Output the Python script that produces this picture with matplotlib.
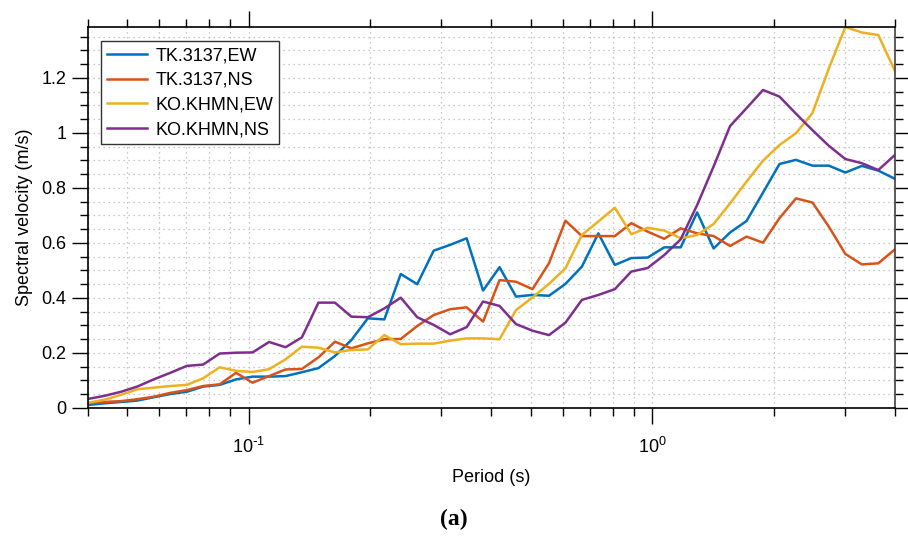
import numpy as np
import matplotlib
matplotlib.use('Agg')
import matplotlib.pyplot as plt
from matplotlib.ticker import LogLocator, MultipleLocator, FuncFormatter

plt.rcParams['font.family'] = ['Liberation Sans', 'DejaVu Sans']
plt.rcParams['mathtext.default'] = 'regular'
plt.rcParams['axes.unicode_minus'] = False

# period grid (s)
periods = [0.0400, 0.0439, 0.0483, 0.0530, 0.0582, 0.0640, 0.0703, 0.0772, 0.0848, 0.0931,
           0.1023, 0.1124, 0.1235, 0.1356, 0.1490, 0.1637, 0.1798, 0.1975, 0.2170, 0.2383,
           0.2618, 0.2876, 0.3159, 0.3471, 0.3812, 0.4188, 0.4601, 0.5054, 0.5552, 0.6099,
           0.6700, 0.7360, 0.8085, 0.8882, 0.9757, 1.0718, 1.1774, 1.2934, 1.4208, 1.5608,
           1.7146, 1.8835, 2.0691, 2.2729, 2.4969, 2.7429, 3.0131, 3.3099, 3.6360, 4.0000]

tk_ew = [0.011, 0.017, 0.022, 0.027, 0.039, 0.051, 0.059, 0.078, 0.084, 0.104,
         0.114, 0.114, 0.116, 0.130, 0.145, 0.189, 0.247, 0.326, 0.322, 0.487,
         0.450, 0.572, 0.593, 0.617, 0.427, 0.512, 0.405, 0.411, 0.408, 0.451,
         0.514, 0.635, 0.520, 0.545, 0.547, 0.584, 0.584, 0.711, 0.580, 0.638,
         0.680, 0.783, 0.887, 0.902, 0.881, 0.881, 0.856, 0.880, 0.863, 0.833]

tk_ns = [0.017, 0.022, 0.025, 0.032, 0.041, 0.055, 0.065, 0.080, 0.086, 0.128,
         0.092, 0.116, 0.140, 0.142, 0.184, 0.241, 0.217, 0.235, 0.250, 0.251,
         0.298, 0.338, 0.359, 0.366, 0.314, 0.465, 0.459, 0.432, 0.526, 0.681,
         0.625, 0.625, 0.625, 0.672, 0.641, 0.615, 0.653, 0.635, 0.625, 0.589,
         0.623, 0.601, 0.690, 0.762, 0.747, 0.659, 0.560, 0.522, 0.526, 0.577]

ko_ew = [0.019, 0.030, 0.048, 0.068, 0.074, 0.080, 0.084, 0.108, 0.148, 0.135,
         0.131, 0.141, 0.177, 0.223, 0.219, 0.202, 0.211, 0.213, 0.265, 0.232,
         0.234, 0.234, 0.245, 0.253, 0.253, 0.250, 0.356, 0.402, 0.451, 0.508,
         0.629, 0.678, 0.728, 0.632, 0.655, 0.645, 0.617, 0.629, 0.669, 0.744,
         0.823, 0.899, 0.956, 0.999, 1.072, 1.235, 1.385, 1.365, 1.356, 1.225]

ko_ns = [0.033, 0.044, 0.059, 0.078, 0.104, 0.128, 0.153, 0.158, 0.198, 0.201,
         0.202, 0.240, 0.221, 0.257, 0.383, 0.383, 0.332, 0.330, 0.362, 0.401,
         0.330, 0.302, 0.268, 0.294, 0.387, 0.371, 0.305, 0.281, 0.265, 0.310,
         0.393, 0.411, 0.432, 0.496, 0.509, 0.556, 0.613, 0.738, 0.878, 1.025,
         1.090, 1.156, 1.132, 1.070, 1.010, 0.953, 0.905, 0.890, 0.865, 0.920]

labels = ['TK.3137,EW', 'TK.3137,NS', 'KO.KHMN,EW', 'KO.KHMN,NS']
colors = ['#0072BD', '#D95319', '#EDB120', '#7E2F8E']


def decade_label(v, pos):
    # MATLAB style 10^-1 with a plain hyphen
    e = int(round(np.log10(v)))
    if e < 0:
        return r'$10^{\text{-}%d}$' % (-e)
    return r'$10^{%d}$' % e


fig = plt.figure(figsize=(9.08, 5.45), dpi=100)
ax = fig.add_axes([88 / 908, 1 - 408 / 545, (895 - 88) / 908, (408 - 27) / 545])

for vals, lab, c in zip([tk_ew, tk_ns, ko_ew, ko_ns], labels, colors):
    ax.plot(periods, vals, color=c, linewidth=1.8, label=lab)

ax.set_xscale('log')
ax.set_xlim(0.04, 4)
ax.set_ylim(0, 1.385)

ax.xaxis.set_major_locator(LogLocator(base=10, numticks=10))
ax.xaxis.set_minor_locator(LogLocator(base=10, subs=np.arange(2, 10) * 1.0, numticks=20))
ax.xaxis.set_major_formatter(FuncFormatter(decade_label))
ax.yaxis.set_major_locator(MultipleLocator(0.2))
ax.yaxis.set_minor_locator(MultipleLocator(0.05))
ax.yaxis.set_major_formatter(FuncFormatter(lambda v, p: '%g' % round(v, 2)))

ax.tick_params(which='both', direction='out', top=True, right=True, width=1.0,
               labelsize=13, colors='#000000')
ax.tick_params(axis='x', which='both', pad=9)
ax.tick_params(axis='y', which='both', pad=4)
ax.tick_params(which='major', length=11.5)
ax.tick_params(which='minor', length=5.8)

ax.grid(True, which='both', linestyle=(0, (1, 3)), color='#b5b5b5', linewidth=0.9)
for s in ax.spines.values():
    s.set_linewidth(1.2)
ax.spines['right'].set_color('#404040')

ax.set_xlabel('Period (s)', fontsize=13, labelpad=9)
ax.set_ylabel('Spectral velocity (m/s)', fontsize=13, labelpad=6)

leg = ax.legend(loc='upper left', bbox_to_anchor=(13 / 807, 1 - 14 / 381), borderaxespad=0,
                fontsize=13, fancybox=False, framealpha=1, edgecolor='#333333',
                handlelength=2.2, handletextpad=0.45, labelspacing=0.42, borderpad=0.35)
leg.get_frame().set_linewidth(1.0)

fig.text(0.5, 1 - 519 / 545, '(a)', ha='center', va='center', fontsize=17,
         fontweight='bold', family='Liberation Serif')

fig.savefig('out.png', dpi=100)
